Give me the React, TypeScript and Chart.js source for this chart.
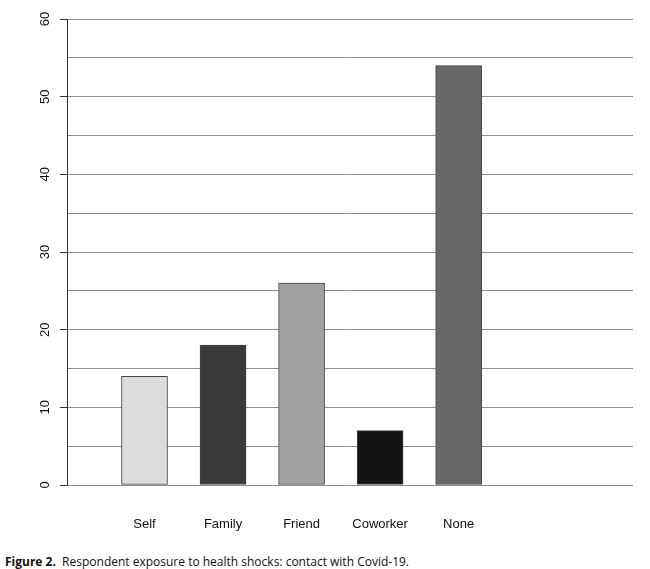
import React, { useEffect, useRef } from "react";
import { Chart, registerables } from "chart.js";

Chart.register(...registerables);

const categories: string[] = ["Self", "Family", "Friend", "Coworker", "None"];
const counts: number[] = [14, 18, 26, 7, 54];
const barColors: string[] = ["#dcdcdc", "#3b3b3b", "#a1a1a1", "#141414", "#686868"];
const yTickStep = 5;
const yMax = 60;

export default function App() {
  const ref = useRef<HTMLCanvasElement | null>(null);

  useEffect(() => {
    if (!ref.current) return;
    const chart = new Chart(ref.current, {
      type: "bar",
      data: {
        datasets: [
          {
            data: counts.map((v, i) => ({ x: i, y: v })),
            backgroundColor: barColors,
            borderColor: "#444",
            borderWidth: 1,
            borderSkipped: false,
            barThickness: 46,
          } as any,
        ],
      },
      options: {
        animation: false,
        responsive: false,
        maintainAspectRatio: false,
        layout: { padding: { top: 19, right: 17, left: 0, bottom: 0 } },
        plugins: { legend: { display: false }, tooltip: { enabled: false } },
        scales: {
          x: {
            type: "linear",
            offset: false,
            min: -0.987,
            max: 6.22,
            grid: { display: false, drawTicks: false },
            border: { display: false },
            afterBuildTicks: (scale: any) => {
              scale.ticks = categories.map((_, i) => ({ value: i }));
            },
            afterFit: (scale: any) => {
              scale.height = 55;
            },
            ticks: {
              autoSkip: false,
              maxRotation: 0,
              minRotation: 0,
              padding: 32,
              color: "#111",
              font: { family: "Liberation Sans, Arial, sans-serif", size: 13 },
              callback: (v: any) => categories[v] ?? "",
            },
          },
          y: {
            min: 0,
            max: yMax,
            afterFit: (scale: any) => {
              scale.width = 67;
            },
            grid: {
              color: "#8f8f8f",
              lineWidth: 1,
              drawTicks: true,
              tickLength: 7,
              tickColor: (ctx: any) =>
                ctx.tick && ctx.tick.value % 10 === 0 ? "#333" : "rgba(0,0,0,0)",
            },
            border: { display: true, color: "#333", width: 1 },
            ticks: {
              stepSize: yTickStep,
              minRotation: 90,
              maxRotation: 90,
              crossAlign: "center",
              padding: 7,
              color: "#111",
              font: { family: "Liberation Sans, Arial, sans-serif", size: 13 },
              callback: (v: any) => (Number(v) % 10 === 0 ? String(v) : ""),
            },
          },
        },
      } as any,
    });
    return () => chart.destroy();
  }, []);

  return (
    <div
      style={{
        position: "absolute",
        left: 0,
        top: 0,
        width: 650,
        height: 569,
        background: "#fff",
      }}
    >
      <canvas ref={ref} width={650} height={540} style={{ display: "block" }} />
      <div
        style={{
          position: "absolute",
          left: 5,
          top: 554,
          fontFamily: "'Open Sans', sans-serif",
          fontSize: 12,
          color: "#111",
          whiteSpace: "pre",
          lineHeight: "16px",
        }}
      >
        <span style={{ fontWeight: 700 }}>Figure 2.</span>
        {"  Respondent exposure to health shocks: contact with Covid-19."}
      </div>
    </div>
  );
}
